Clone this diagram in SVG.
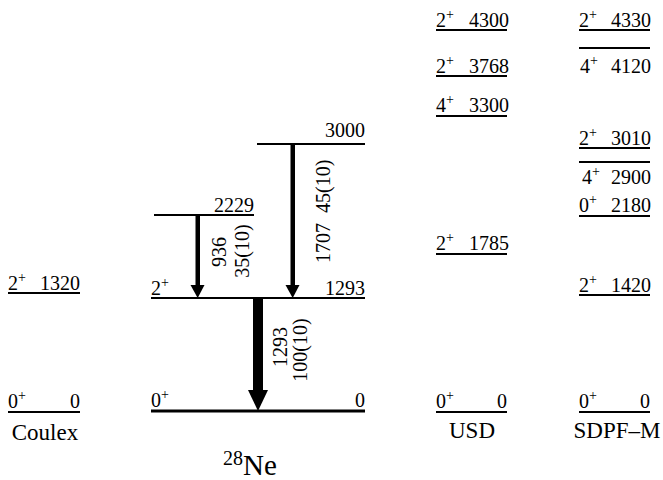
<svg xmlns="http://www.w3.org/2000/svg" width="663" height="480" viewBox="0 0 663 480">
<style>
text{font-size:20px;fill:#000}
.sup{font-size:14px}
.lab{font-size:23px}
.e{text-anchor:end}
.m{text-anchor:middle}
.lv{stroke:#000;stroke-width:2;fill:none}
.lv3{stroke:#000;stroke-width:3;fill:none}
.ar{fill:#000;stroke:none}
</style>
<rect width="663" height="480" fill="#fff"/>
<g font-family="Liberation Serif, Tinos, Times New Roman, serif">

<!-- Coulex -->
<g id="coulex-1320">
<line class="lv" x1="8" y1="293" x2="80" y2="293"/>
<text x="8" y="290">2<tspan class="sup" dy="-8">+</tspan></text>
<text class="e" x="80" y="290">1320</text>
</g>
<g id="coulex-0">
<line class="lv" x1="8" y1="412" x2="80" y2="412"/>
<text x="8" y="408">0<tspan class="sup" dy="-8">+</tspan></text>
<text class="e" x="80" y="408">0</text>
</g>
<text id="label-coulex" class="lab m" x="45" y="440">Coulex</text>

<!-- 28Ne experiment -->
<g id="ne-3000">
<line class="lv" x1="257" y1="144" x2="365" y2="144"/>
<text class="e" x="365" y="137">3000</text>
</g>
<g id="ne-2229">
<line class="lv" x1="154" y1="215" x2="254" y2="215"/>
<text class="e" x="254" y="212">2229</text>
</g>
<g id="ne-1293">
<line class="lv" x1="151" y1="298" x2="365" y2="298"/>
<text x="151" y="295">2<tspan class="sup" dy="-8">+</tspan></text>
<text class="e" x="365" y="295">1293</text>
</g>
<g id="ne-0">
<line class="lv3" x1="151" y1="411" x2="365" y2="411"/>
<text x="151" y="407">0<tspan class="sup" dy="-8">+</tspan></text>
<text class="e" x="365" y="407">0</text>
</g>
<text id="label-ne" x="223" y="475"><tspan font-size="20" dy="-10">28</tspan><tspan font-size="29" dy="10">Ne</tspan></text>

<!-- transitions -->
<g id="connectors">
<g id="t936">
<rect class="ar" x="195.5" y="215" width="4.5" height="72"/>
<polygon class="ar" points="190.5,285 204.5,285 197.7,298"/>
</g>
<g id="t1707">
<rect class="ar" x="290.5" y="144" width="4.5" height="143"/>
<polygon class="ar" points="285.5,285 299.5,285 292.7,298"/>
</g>
<g id="t1293">
<rect class="ar" x="253" y="298" width="10" height="94"/>
<polygon class="ar" points="248,390 268,390 258,411"/>
</g>
</g>
<text class="m" transform="translate(226,252) rotate(-90)">936</text>
<text class="m" transform="translate(249,251) rotate(-90)">35(10)</text>
<text transform="translate(330,263) rotate(-90)">1707<tspan dx="10">45(10)</tspan></text>
<text class="m" transform="translate(287,347) rotate(-90)">1293</text>
<text class="m" transform="translate(307,350) rotate(-90)">100(10)</text>

<!-- USD -->
<g id="usd-4300">
<line class="lv" x1="436" y1="30" x2="507" y2="30"/>
<text x="436" y="27">2<tspan class="sup" dy="-8">+</tspan></text>
<text class="e" x="509" y="27">4300</text>
</g>
<g id="usd-3768">
<line class="lv" x1="436" y1="76" x2="507" y2="76"/>
<text x="436" y="73">2<tspan class="sup" dy="-8">+</tspan></text>
<text class="e" x="509" y="73">3768</text>
</g>
<g id="usd-3300">
<line class="lv" x1="436" y1="116" x2="507" y2="116"/>
<text x="436" y="112">4<tspan class="sup" dy="-8">+</tspan></text>
<text class="e" x="509" y="112">3300</text>
</g>
<g id="usd-1785">
<line class="lv" x1="436" y1="254" x2="507" y2="254"/>
<text x="436" y="250">2<tspan class="sup" dy="-8">+</tspan></text>
<text class="e" x="509" y="250">1785</text>
</g>
<g id="usd-0">
<line class="lv" x1="436" y1="412" x2="507" y2="412"/>
<text x="436" y="408">0<tspan class="sup" dy="-8">+</tspan></text>
<text class="e" x="507" y="408">0</text>
</g>
<text id="label-usd" class="lab m" x="472" y="438">USD</text>

<!-- SDPF-M -->
<g id="sdpf-4330">
<line class="lv" x1="579" y1="30" x2="650" y2="30"/>
<text x="579" y="27">2<tspan class="sup" dy="-8">+</tspan></text>
<text class="e" x="651" y="27">4330</text>
</g>
<g id="sdpf-4120">
<line class="lv" x1="579" y1="48" x2="650" y2="48"/>
<text x="580" y="73">4<tspan class="sup" dy="-8">+</tspan></text>
<text class="e" x="651" y="73">4120</text>
</g>
<g id="sdpf-3010">
<line class="lv" x1="579" y1="148" x2="650" y2="148"/>
<text x="579" y="145">2<tspan class="sup" dy="-8">+</tspan></text>
<text class="e" x="651" y="145">3010</text>
</g>
<g id="sdpf-2900">
<line class="lv" x1="579" y1="162" x2="650" y2="162"/>
<text x="582" y="184">4<tspan class="sup" dy="-8">+</tspan></text>
<text class="e" x="651" y="184">2900</text>
</g>
<g id="sdpf-2180">
<line class="lv" x1="579" y1="216" x2="650" y2="216"/>
<text x="579" y="212">0<tspan class="sup" dy="-8">+</tspan></text>
<text class="e" x="651" y="212">2180</text>
</g>
<g id="sdpf-1420">
<line class="lv" x1="579" y1="295" x2="650" y2="295"/>
<text x="579" y="292">2<tspan class="sup" dy="-8">+</tspan></text>
<text class="e" x="651" y="292">1420</text>
</g>
<g id="sdpf-0">
<line class="lv" x1="579" y1="412" x2="650" y2="412"/>
<text x="579" y="408">0<tspan class="sup" dy="-8">+</tspan></text>
<text class="e" x="650" y="408">0</text>
</g>
<text id="label-sdpf" class="lab m" x="617" y="438">SDPF–M</text>
</g>
</svg>
